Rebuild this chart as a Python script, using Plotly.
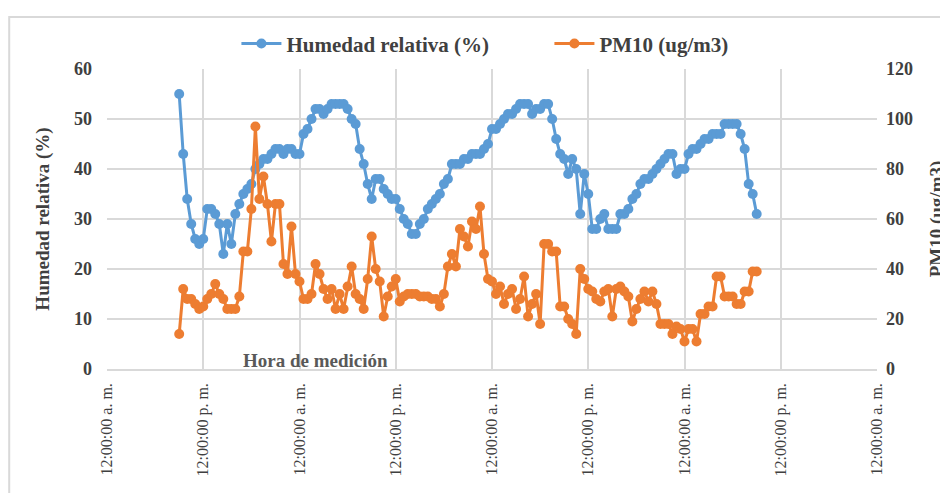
import pandas as pd
import plotly.graph_objects as go

# ---- data (half-hourly readings) ----
start_time = "2019-06-01 09:00"
n_points = 145
humedad = [55, 43, 34, 29, 26, 25, 26, 32, 32, 31,
           29, 23, 29, 25, 31, 33, 35, 36, 37, 40,
           41, 42, 42, 43, 44, 44, 43, 44, 44, 43,
           43, 47, 48, 50, 52, 52, 51, 52, 53, 53,
           53, 53, 52, 50, 49, 44, 41, 37, 34, 38,
           38, 36, 35, 34, 34, 32, 30, 29, 27, 27,
           29, 30, 32, 33, 34, 35, 37, 38, 41, 41,
           41, 42, 42, 43, 43, 43, 44, 45, 48, 48,
           49, 50, 51, 51, 52, 53, 53, 53, 51, 52,
           52, 53, 53, 50, 46, 43, 42, 39, 42, 40,
           31, 39, 35, 28, 28, 30, 31, 28, 28, 28,
           31, 31, 32, 34, 35, 37, 38, 38, 39, 40,
           41, 42, 43, 43, 39, 40, 40, 43, 44, 44,
           45, 46, 46, 47, 47, 47, 49, 49, 49, 49,
           47, 44, 37, 35, 31]
pm10 = [14, 32, 28, 28, 26, 24, 25, 28, 30, 34,
        30, 28, 24, 24, 24, 29, 47, 47, 64, 97,
        68, 77, 66, 51, 66, 66, 42, 38, 57, 38,
        35, 28, 28, 30, 42, 38, 32, 28, 32, 24,
        30, 24, 33, 41, 30, 28, 24, 36, 53, 40,
        35, 21, 29, 33, 36, 27, 29, 30, 30, 30,
        29, 29, 29, 28, 28, 25, 30, 41, 46, 41,
        56, 53, 49, 59, 56, 65, 46, 36, 35, 30,
        33, 26, 30, 32, 24, 28, 37, 21, 26, 30,
        18, 50, 50, 47, 47, 25, 25, 20, 18, 14,
        40, 36, 32, 31, 28, 27, 31, 32, 21, 32,
        33, 31, 29, 19, 24, 28, 31, 27, 31, 26,
        18, 18, 18, 14, 17, 16, 11, 16, 16, 11,
        22, 22, 25, 25, 37, 37, 29, 29, 29, 26,
        26, 31, 31, 39, 39]
tick_times = ["2019-06-01 00:00", "2019-06-01 12:00", "2019-06-02 00:00",
              "2019-06-02 12:00", "2019-06-03 00:00", "2019-06-03 12:00",
              "2019-06-04 00:00", "2019-06-04 12:00", "2019-06-05 00:00"]
tick_labels = ["12:00:00 a. m.", "12:00:00 p. m.", "12:00:00 a. m.",
               "12:00:00 p. m.", "12:00:00 a. m.", "12:00:00 p. m.",
               "12:00:00 a. m.", "12:00:00 p. m.", "12:00:00 a. m."]
series_names = ["Humedad relativa (%)", "PM10 (ug/m3)"]

times = pd.date_range(start_time, periods=n_points, freq="30min")

BLUE = "#5B9BD5"
ORANGE = "#ED7D31"
SERIF = "Liberation Serif"

fig = go.Figure()
fig.add_trace(go.Scatter(x=times, y=humedad, name=series_names[0], mode="lines+markers",
                         line=dict(color=BLUE, width=3),
                         marker=dict(color=BLUE, size=10), yaxis="y"))
fig.add_trace(go.Scatter(x=times, y=pm10, name=series_names[1], mode="lines+markers",
                         line=dict(color=ORANGE, width=3),
                         marker=dict(color=ORANGE, size=10), yaxis="y2"))

fig.update_layout(
    width=940, height=485,
    margin=dict(l=99, r=71, t=61, b=124, autoexpand=False),
    paper_bgcolor="white", plot_bgcolor="white",
    font=dict(family=SERIF, color="#404040"),
    showlegend=True,
    legend=dict(orientation="h", xref="container", yref="container",
                x=0.243, xanchor="left", y=0.926, yanchor="middle",
                font=dict(family=SERIF, size=21, color="#404040", weight="bold"),
                bgcolor="rgba(0,0,0,0)", itemwidth=40,
                entrywidth=258, entrywidthmode="pixels"),
    xaxis=dict(type="date", range=[tick_times[0], tick_times[-1]], automargin=False,
               tickvals=tick_times, ticktext=tick_labels, tickangle=-90,
               tickfont=dict(family=SERIF, size=16, color="#404040"),
               showgrid=True, gridcolor="#d9d9d9", gridwidth=1.5,
               showline=True, linecolor="#d9d9d9", linewidth=1.5,
               ticks="", zeroline=False, ticklabelstandoff=6),
    yaxis=dict(range=[0, 60], dtick=10, tick0=0, automargin=False,
               tickfont=dict(family=SERIF, size=18, color="#404040", weight="bold"),
               showgrid=True, gridcolor="#d9d9d9", gridwidth=1.5,
               zeroline=False, showline=False, ticks="", ticklabelstandoff=14,
               title=dict(text=series_names[0], standoff=19,
                          font=dict(family=SERIF, size=19, color="#404040", weight="bold"))),
    yaxis2=dict(range=[0, 120], dtick=20, tick0=0, overlaying="y", side="right",
                automargin=False,
                tickfont=dict(family=SERIF, size=18, color="#404040", weight="bold"),
                showgrid=False, zeroline=False, showline=False, ticks="", ticklabelstandoff=8,
                title=dict(text=series_names[1], standoff=24,
                           font=dict(family=SERIF, size=19, color="#404040", weight="bold"))),
    annotations=[dict(text="Hora de medición", xref="paper", yref="paper",
                      x=0.271, y=0.03, xanchor="center", yanchor="middle", showarrow=False,
                      font=dict(family=SERIF, size=19, color="#595959", weight="bold"))],
    shapes=[dict(type="rect", xref="paper", yref="paper",
                 x0=-0.127, x1=1.12, y0=-0.5, y1=1.1733,
                 line=dict(color="#d9d9d9", width=2), fillcolor="rgba(0,0,0,0)",
                 layer="above")],
)

fig.write_html("out.html")
